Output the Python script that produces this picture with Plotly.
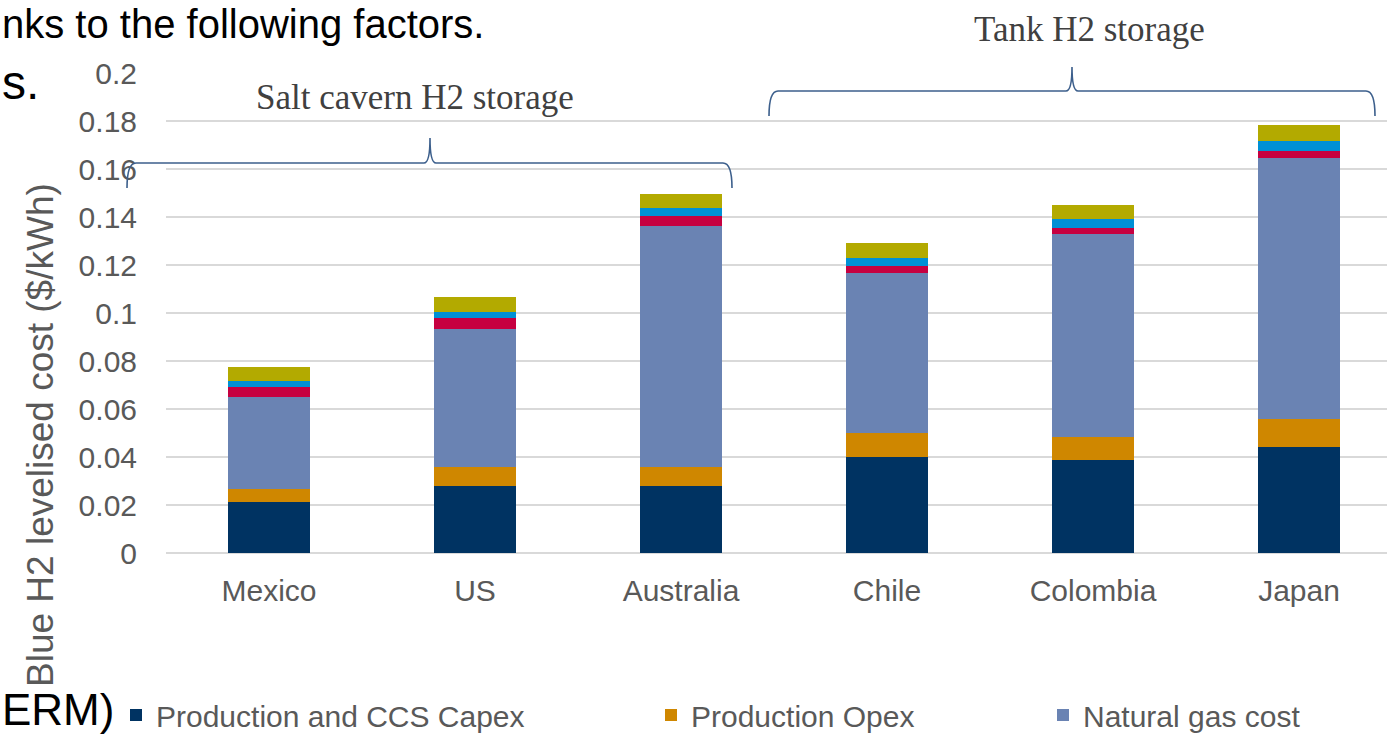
import plotly.graph_objects as go

# Countries and cost components (US$/kWh of blue hydrogen)
countries = ["Mexico", "US", "Australia", "Chile", "Colombia", "Japan"]
capex = [0.0211, 0.0279, 0.0279, 0.0400, 0.0388, 0.0440]
opex = [0.0055, 0.0078, 0.0078, 0.0100, 0.0095, 0.0119]
gas_cost = [0.0383, 0.0575, 0.1007, 0.0665, 0.0846, 0.1085]
co2_ts = [0.0042, 0.0048, 0.0042, 0.0030, 0.0025, 0.0032]
h2_storage = [0.0025, 0.0024, 0.0031, 0.0036, 0.0036, 0.0042]
h2_compression = [0.0060, 0.0061, 0.0060, 0.0061, 0.0060, 0.0065]

y_ticks = [0, 0.02, 0.04, 0.06, 0.08, 0.1, 0.12, 0.14, 0.16, 0.18, 0.2]
y_tick_text = ["0", "0.02", "0.04", "0.06", "0.08", "0.1", "0.12", "0.14", "0.16", "0.18", "0.2"]

W, H = 1387, 736
L, R, T, B = 166, 0, 73, 183
PW, PH = W - L - R, H - T - B

FONT = "Arial, Liberation Sans, sans-serif"
SERIF = "Liberation Serif, DejaVu Serif, serif"
GREY_TXT = "#595959"


def px(x):
    return (x - L) / PW


def py(y):
    return (H - B - y) / PH


series = [
    ("Production and CCS Capex", capex, "#003362", "legend", True),
    ("Production Opex", opex, "#CF8700", "legend2", True),
    ("Natural gas cost", gas_cost, "#6A83B3", "legend3", True),
    ("CO2 transport and storage", co2_ts, "#C60040", "legend", False),
    ("H2 storage", h2_storage, "#0090D5", "legend", False),
    ("H2 compression", h2_compression, "#B3AA00", "legend", False),
]

fig = go.Figure()
for name, vals, color, lg, show in series:
    fig.add_trace(go.Bar(
        x=countries, y=vals, name=name,
        marker=dict(color=color, line=dict(width=0)),
        legend=lg, showlegend=show,
    ))


# Curly brace outline (pixel points converted to paper coordinates)
def brace(x0, x1, xm, yh, yb, yp):
    pts = [
        ("M", [(x0, yb)]),
        ("Q", [(x0, yh), (x0 + 9, yh)]),
        ("L", [(xm - 6, yh)]),
        ("Q", [(xm, yh), (xm, yp)]),
        ("Q", [(xm, yh), (xm + 6, yh)]),
        ("L", [(x1 - 9, yh)]),
        ("Q", [(x1, yh), (x1, yb)]),
    ]
    out = []
    for cmd, ps in pts:
        out.append(cmd + " ".join(f"{px(a):.5f},{py(b):.5f}" for a, b in ps))
    return " ".join(out)


shapes = [
    dict(type="path", xref="paper", yref="paper",
         path=brace(127, 732, 430, 163, 188, 138),
         line=dict(color="#3C5F8C", width=1.6)),
    dict(type="path", xref="paper", yref="paper",
         path=brace(769, 1375, 1072, 91, 116, 67),
         line=dict(color="#3C5F8C", width=1.6)),
]

annotations = [
    dict(text="Salt cavern H2 storage", x=px(415), y=py(97), xref="paper", yref="paper",
         showarrow=False, xanchor="center", yanchor="middle",
         font=dict(family=SERIF, size=35, color="#404040")),
    dict(text="Tank H2 storage", x=px(1089), y=py(30), xref="paper", yref="paper",
         showarrow=False, xanchor="center", yanchor="middle",
         font=dict(family=SERIF, size=35, color="#404040")),
    dict(text="Blue H2 levelised cost ($/kWh)", x=px(40), y=py(435), xref="paper", yref="paper",
         showarrow=False, textangle=-90, xanchor="center", yanchor="middle",
         font=dict(family=FONT, size=37, color=GREY_TXT)),
    # surrounding slide text
    dict(text="nks to the following factors.", x=px(0), y=py(0), xref="paper", yref="paper",
         showarrow=False, xanchor="left", yanchor="top",
         font=dict(family=FONT, size=40, color="#000000")),
    dict(text="s.", x=px(0), y=py(54), xref="paper", yref="paper",
         showarrow=False, xanchor="left", yanchor="top",
         font=dict(family=FONT, size=48, color="#000000")),
    dict(text="ERM)", x=px(0), y=py(736), xref="paper", yref="paper",
         showarrow=False, xanchor="left", yanchor="bottom",
         font=dict(family=FONT, size=44, color="#000000")),
]

legend_common = dict(orientation="h", yref="paper", xref="paper", y=py(715), yanchor="middle",
                     xanchor="left", bgcolor="rgba(0,0,0,0)", borderwidth=0,
                     font=dict(family=FONT, size=30, color=GREY_TXT))

fig.update_layout(
    width=W, height=H,
    margin=dict(l=L, r=R, t=T, b=B, pad=0, autoexpand=False),
    paper_bgcolor="white", plot_bgcolor="white",
    barmode="stack", bargap=0.6,
    font=dict(family=FONT, size=30, color=GREY_TXT),
    xaxis=dict(range=[-0.5, -0.5 + PW / 206.0], showgrid=False, showline=False,
               zeroline=False, ticks="", ticklabelstandoff=17,
               tickfont=dict(family=FONT, size=30, color=GREY_TXT)),
    yaxis=dict(range=[0, 0.2], tickvals=y_ticks, ticktext=y_tick_text,
               showgrid=True, gridcolor="#D9D9D9", gridwidth=2,
               zeroline=True, zerolinecolor="#D9D9D9", zerolinewidth=2,
               showline=False, ticks="", ticklabelstandoff=28,
               tickfont=dict(family=FONT, size=30, color=GREY_TXT)),
    legend=dict(legend_common, x=px(116)),
    legend2=dict(legend_common, x=px(651)),
    legend3=dict(legend_common, x=px(1043)),
    shapes=shapes,
    annotations=annotations,
)

fig.write_html("out.html")
